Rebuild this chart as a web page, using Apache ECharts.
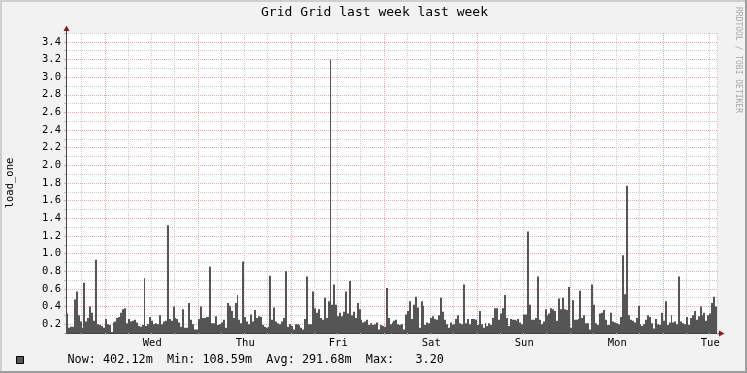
<!DOCTYPE html>
<html><head><meta charset="utf-8">
<script src="https://cdn.jsdelivr.net/npm/echarts@6/dist/echarts.min.js"></script>
<style>html,body{margin:0;padding:0;background:#F2F2F2}#c{width:747px;height:373px}</style>
</head><body><div id="c"></div>
<script>
const chartTitle = 'Grid Grid last week last week';
const yName = 'load_one';
const dayLabels = ['Wed', 'Thu', 'Fri', 'Sat', 'Sun', 'Mon', 'Tue'];
const legendStats = ['Now: 402.12m', 'Min: 108.59m', 'Avg: 291.68m', 'Max:   3.20'];
const watermark = 'RRDTOOL / TOBI OETIKER';

// 30-minute samples, one array per 24h slice starting Tue 14:00
const day1 = [0.32,0.16,0.17,0.17,0.48,0.57,0.30,0.23,0.16,0.67,0.23,0.27,0.40,0.33,0.24,0.93,
  0.20,0.19,0.18,0.16,0.26,0.20,0.19,0.11,0.22,0.23,0.27,0.28,0.33,0.37,0.38,0.21,
  0.26,0.23,0.24,0.25,0.22,0.18,0.17,0.19,0.72,0.18,0.20,0.28,0.24,0.20,0.21,0.20];
const day2 = [0.30,0.20,0.23,0.24,1.32,0.26,0.24,0.40,0.27,0.26,0.22,0.17,0.37,0.16,0.16,0.44,
  0.25,0.20,0.14,0.14,0.26,0.40,0.27,0.27,0.28,0.28,0.85,0.21,0.21,0.29,0.19,0.20,
  0.22,0.25,0.16,0.44,0.41,0.35,0.27,0.44,0.53,0.25,0.21,0.91,0.28,0.23,0.20,0.31];
const day3 = [0.23,0.36,0.27,0.29,0.28,0.19,0.17,0.16,0.17,0.75,0.25,0.39,0.23,0.21,0.20,0.23,
  0.27,0.80,0.17,0.20,0.18,0.14,0.20,0.20,0.19,0.16,0.14,0.26,0.74,0.20,0.20,0.57,
  0.38,0.33,0.37,0.27,0.25,0.50,0.27,0.46,3.20,0.42,0.65,0.42,0.29,0.33,0.29,0.34];
const day4 = [0.57,0.32,0.69,0.30,0.34,0.27,0.44,0.37,0.25,0.22,0.23,0.25,0.19,0.21,0.19,0.20,
  0.22,0.14,0.19,0.18,0.17,0.61,0.27,0.20,0.22,0.24,0.25,0.20,0.19,0.20,0.14,0.31,
  0.35,0.46,0.26,0.42,0.51,0.39,0.16,0.46,0.41,0.19,0.22,0.21,0.27,0.29,0.26,0.25];
const day5 = [0.30,0.50,0.34,0.25,0.20,0.16,0.22,0.19,0.20,0.26,0.30,0.21,0.20,0.65,0.21,0.26,
  0.20,0.26,0.26,0.25,0.19,0.35,0.20,0.16,0.21,0.18,0.21,0.19,0.27,0.38,0.38,0.25,
  0.32,0.38,0.53,0.27,0.18,0.26,0.25,0.25,0.24,0.26,0.22,0.20,0.31,0.31,1.25,0.42];
const day6 = [0.25,0.25,0.27,0.74,0.25,0.20,0.23,0.37,0.30,0.32,0.38,0.37,0.35,0.24,0.49,0.37,
  0.50,0.37,0.36,0.62,0.16,0.47,0.25,0.25,0.26,0.58,0.27,0.30,0.21,0.21,0.14,0.65,
  0.42,0.21,0.19,0.32,0.33,0.36,0.25,0.19,0.19,0.33,0.23,0.22,0.21,0.20,0.28,0.98];
const day7 = [0.54,1.77,0.30,0.25,0.24,0.22,0.27,0.41,0.20,0.18,0.20,0.25,0.30,0.28,0.21,0.15,
  0.26,0.20,0.19,0.33,0.24,0.46,0.19,0.22,0.30,0.22,0.23,0.20,0.74,0.23,0.21,0.20,
  0.28,0.19,0.27,0.30,0.35,0.25,0.29,0.40,0.30,0.33,0.24,0.30,0.32,0.44,0.51,0.40];

const values = [].concat(day1, day2, day3, day4, day5, day6, day7);
const categories = values.map((_, i) => String(i));
const FIRST_GRID = 8;     // slot index of first 6-hour grid line (Tue 18:00)
const FIRST_NOON = 44;    // slot index of Wed 12:00
const SLOTS_DAY = 48;
const Y_MIN = 0.1, Y_MAX = 3.5;

const FONT = "'DejaVu Sans Mono', monospace";
const GRID_GREY = '#CACACA';
const GRID_RED = '#E8AAAA';
const ARROW = '#801F1F';
const AREA = '#555555';

const isGrid = i => i >= FIRST_GRID && (i - FIRST_GRID) % 12 === 0;
const isNoon = i => i >= FIRST_NOON && (i - FIRST_NOON) % SLOTS_DAY === 0;

function renderBar(params, api) {
  const idx = api.value(0);
  const v = api.value(1);
  const top = api.coord([idx, v]);
  const base = api.coord([idx, Y_MIN]);
  const w = api.size([1, 0])[0];
  const x0 = Math.round(top[0] - w / 2);
  const x1 = Math.round(top[0] + w / 2);
  return {
    type: 'rect',
    shape: {x: x0, y: top[1], width: Math.max(1, x1 - x0), height: base[1] - top[1]},
    style: {fill: AREA}
  };
}

const chart = echarts.init(document.getElementById('c'), null, {renderer: 'canvas'});
chart.setOption({
  animation: false,
  backgroundColor: '#F2F2F2',
  title: {
    text: chartTitle, left: 261, top: 6, padding: 0,
    textStyle: {fontFamily: FONT, fontSize: 13, fontWeight: 'normal', color: '#000'}
  },
  grid: {left: 66, top: 33, width: 651, height: 300, outerBoundsMode: 'none', containLabel: false,
    show: true, backgroundColor: '#FFFFFF', borderWidth: 0},
  legend: {
    left: 16, top: 354, padding: 0, icon: 'rect', itemWidth: 7, itemHeight: 7,
    itemStyle: {color: AREA, borderColor: '#000', borderWidth: 1},
    formatter: () => legendStats.join('  '),
    textStyle: {fontFamily: FONT, fontSize: 11.8, color: '#000', padding: [0, 0, 0, 39]},
    selectedMode: false
  },
  xAxis: {
    type: 'category', data: categories, boundaryGap: true,
    axisLine: {show: true, lineStyle: {color: '#444', width: 1}},
    axisTick: {show: true, interval: (i) => isGrid(i), length: 2, lineStyle: {color: '#BBBBBB'}},
    axisLabel: {
      interval: (i) => isNoon(i),
      formatter: (v, i) => dayLabels[(i - FIRST_NOON) / SLOTS_DAY],
      margin: 5, fontFamily: FONT, fontSize: 10.5, color: '#000'
    },
    splitLine: {
      show: true, interval: (i) => isGrid(i),
      lineStyle: {color: [GRID_GREY, GRID_RED, GRID_GREY, GRID_GREY], type: [1, 1], width: 1}
    }
  },
  yAxis: {
    type: 'value', min: Y_MIN, max: Y_MAX, interval: 0.1,
    name: yName, nameLocation: 'middle', nameGap: 50, nameRotate: 90,
    nameTextStyle: {fontFamily: FONT, fontSize: 10.5, color: '#000'},
    axisLine: {show: true, lineStyle: {color: '#444', width: 1}},
    axisTick: {show: true, length: 2, lineStyle: {color: '#BBBBBB'}},
    axisLabel: {
      formatter: (v) => (Math.round(v * 10) % 2 === 0 ? v.toFixed(1) : ''),
      margin: 5, fontFamily: FONT, fontSize: 10.5, color: '#000'
    },
    splitLine: {show: true, showMinLine: true, showMaxLine: true,
      lineStyle: {color: [GRID_GREY, GRID_RED], type: [1, 1], width: 1}}
  },
  series: [{
    type: 'custom', name: yName,
    data: values.map((v, i) => [i, v]),
    encode: {x: 0, y: 1},
    renderItem: renderBar,
    itemStyle: {color: AREA},
    clip: true
  }],
  graphic: [
    {type: 'rect', shape: {x: 0, y: 0, width: 747, height: 2}, style: {fill: '#CFCFCF'}, silent: true},
    {type: 'rect', shape: {x: 0, y: 0, width: 2, height: 373}, style: {fill: '#CFCFCF'}, silent: true},
    {type: 'rect', shape: {x: 0, y: 371, width: 747, height: 2}, style: {fill: '#9E9E9E'}, silent: true},
    {type: 'rect', shape: {x: 745, y: 0, width: 2, height: 373}, style: {fill: '#9E9E9E'}, silent: true},
    {type: 'line', shape: {x1: 66.5, y1: 33, x2: 66.5, y2: 30}, style: {stroke: '#444', lineWidth: 1}, silent: true},
    {type: 'line', shape: {x1: 717, y1: 333.5, x2: 720, y2: 333.5}, style: {stroke: '#444', lineWidth: 1}, silent: true},
    {type: 'polygon', shape: {points: [[63.5, 31], [69.5, 31], [66.5, 25.5]]}, style: {fill: ARROW}, silent: true},
    {type: 'polygon', shape: {points: [[719, 330.5], [719, 336.5], [724.5, 333.5]]}, style: {fill: ARROW}, silent: true},
    {type: 'text', x: 738, y: 60, rotation: -Math.PI / 2,
      style: {text: watermark, font: "8px 'DejaVu Sans Mono'", fill: '#A8A8A8', align: 'center', verticalAlign: 'middle'}, silent: true}
  ]
});
</script>
</body></html>
